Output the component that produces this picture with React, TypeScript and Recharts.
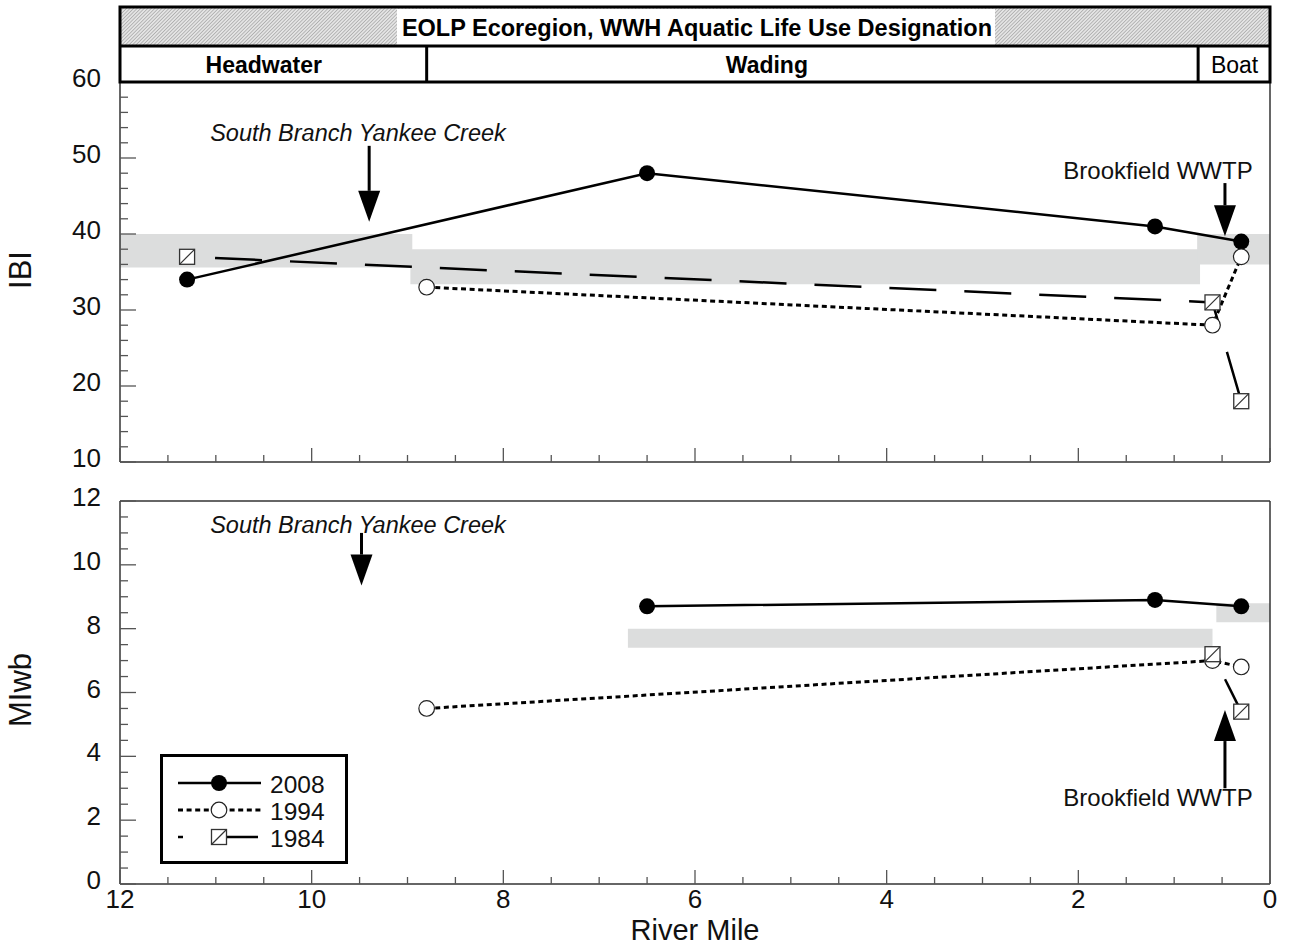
import React from 'react';
import { ComposedChart, Line, XAxis, YAxis, ReferenceArea, ReferenceLine } from 'recharts';

const FONT = '"Liberation Sans", Arial, sans-serif';

// river mile ticks (shared by both panels)
const MILE_TICKS = Array.from({ length: 25 }, (_, i) => i * 0.5);
const IBI_TICKS = Array.from({ length: 26 }, (_, i) => 10 + i * 2);
const MIWB_TICKS = Array.from({ length: 25 }, (_, i) => i * 0.5);

// IBI
const MILES_2008_IBI = [11.3, 6.5, 1.2, 0.3];
const IBI_2008 = [34, 48, 41, 39];
const MILES_1994_IBI = [8.8, 0.6, 0.3];
const IBI_1994 = [33, 28, 37];
const MILES_1984_IBI = [11.3, 0.6, 0.3];
const IBI_1984 = [37, 31, 18];

// MIwb
const MILES_2008_MIWB = [6.5, 1.2, 0.3];
const MIWB_2008 = [8.7, 8.9, 8.7];
const MILES_1994_MIWB = [8.8, 0.6, 0.3];
const MIWB_1994 = [5.5, 7.0, 6.8];
const MILES_1984_MIWB = [0.6, 0.3];
const MIWB_1984 = [7.2, 5.4];

// criteria bands (headwater, wading, boat)
const IBI_BANDS = [
  { x1: 12, x2: 8.95, y1: 35.6, y2: 40 },
  { x1: 8.97, x2: 0.73, y1: 33.4, y2: 38 },
  { x1: 0.76, x2: 0, y1: 36, y2: 40 },
];
const MIWB_BANDS = [
  { x1: 6.7, x2: 0.6, y1: 7.4, y2: 8.0 },
  { x1: 0.56, x2: 0, y1: 8.2, y2: 8.8 },
];

// use designation segments
const DESIGNATIONS = [
  { label: 'Headwater', to: 8.8, bold: true, at: 10.5 },
  { label: 'Wading', to: 0.75, bold: true, at: 5.25 },
  { label: 'Boat', to: 0, bold: false, at: 0.37 },
];

const zip = (miles: number[], vals: number[]) => miles.map((m, i) => ({ mile: m, v: vals[i] }));

// page geometry
const LEFT = 120;
const RIGHT = 1270;
const TOP_Y0 = 82;
const TOP_Y1 = 462;
const BOT_Y0 = 501;
const BOT_Y1 = 884;
const X_AXIS_H = 30;
const px = (mile: number) => LEFT + ((12 - mile) * (RIGHT - LEFT)) / 12;
const pyTop = (v: number) => TOP_Y0 + ((60 - v) * (TOP_Y1 - TOP_Y0)) / 50;
const pyBot = (v: number) => BOT_Y0 + ((12 - v) * (BOT_Y1 - BOT_Y0)) / 12;

const AXIS = { stroke: '#333', strokeWidth: 1.5 };

const makeYTick = (majorEvery: number) => (p: any) => {
  const v = p.payload.value;
  const major = Math.abs(v / majorEvery - Math.round(v / majorEvery)) < 1e-6;
  return (
    <g key={`yt-${v}`}>
      <line x1={p.x} x2={p.x + (major ? 16 : 8)} y1={p.y} y2={p.y} stroke="#555" strokeWidth={1.3} />
      {major && (
        <text x={p.x - 19} y={p.y - 4} textAnchor="end" dominantBaseline="central" fontSize={26} fontFamily={FONT} fill="#111">
          {v}
        </text>
      )}
    </g>
  );
};

const makeXTick = (labels: boolean) => (p: any) => {
  const v = p.payload.value;
  const major = v % 2 === 0;
  return (
    <g key={`xt-${v}`}>
      <line x1={p.x} x2={p.x} y1={p.y} y2={p.y - (major ? 14 : 7)} stroke="#555" strokeWidth={1.3} />
      {labels && major && (
        <text x={p.x} y={p.y + 15} textAnchor="middle" dominantBaseline="central" fontSize={26} fontFamily={FONT} fill="#111">
          {v}
        </text>
      )}
    </g>
  );
};

const dotFilled = (p: any) => <circle key={`f-${p.index}`} cx={p.cx} cy={p.cy} r={8} fill="#000" />;
const dotOpen = (p: any) => (
  <circle key={`o-${p.index}`} cx={p.cx} cy={p.cy} r={7.8} fill="#fff" stroke="#222" strokeWidth={1.2} />
);
const dotSquare = (p: any) => (
  <g key={`s-${p.index}`}>
    <rect x={p.cx - 7.5} y={p.cy - 7.5} width={15} height={15} fill="#fff" stroke="#333" strokeWidth={1.3} />
    <line x1={p.cx - 7.5} y1={p.cy + 7.5} x2={p.cx + 7.5} y2={p.cy - 7.5} stroke="#333" strokeWidth={1.2} />
  </g>
);

const Arrow = ({ x, from, tip }: { x: number; from: number; tip: number }) => {
  const dir = tip > from ? 1 : -1;
  const base = tip - dir * 31;
  return (
    <g>
      <line x1={x} x2={x} y1={from} y2={base} stroke="#000" strokeWidth={3} />
      <polygon points={`${x - 11},${base} ${x + 11},${base} ${x},${tip}`} fill="#000" />
    </g>
  );
};

function Panel({ top, height, margin, yDomain, yTicks, majorEvery, bands, s2008, s1994, s1984, labels, boxTop }: any) {
  return (
    <div style={{ position: 'absolute', left: 0, top }}>
      <ComposedChart width={1292} height={height} margin={margin}>
        <XAxis
          type="number"
          dataKey="mile"
          domain={[0, 12]}
          reversed
          allowDataOverflow
          ticks={MILE_TICKS}
          interval={0}
          height={X_AXIS_H}
          tickSize={0}
          tickMargin={0}
          tickLine={false}
          axisLine={AXIS}
          tick={makeXTick(labels)}
        />
        <YAxis
          type="number"
          domain={yDomain}
          allowDataOverflow
          ticks={yTicks}
          interval={0}
          width={120}
          tickSize={0}
          tickMargin={0}
          tickLine={false}
          axisLine={AXIS}
          tick={makeYTick(majorEvery)}
        />
        {bands.map((b: any, i: number) => (
          <ReferenceArea key={i} x1={b.x1} x2={b.x2} y1={b.y1} y2={b.y2} fill="#dcdddd" fillOpacity={1} stroke="none" />
        ))}
        <ReferenceLine x={0} stroke="#333" strokeWidth={1.5} />
        {boxTop && <ReferenceLine y={yDomain[1]} stroke="#333" strokeWidth={1.5} />}
        <Line data={s2008} dataKey="v" stroke="#000" strokeWidth={2.5} dot={dotFilled} isAnimationActive={false} />
        <Line data={s1994} dataKey="v" stroke="#000" strokeWidth={3} strokeDasharray="5 3.6" dot={dotOpen} isAnimationActive={false} />
        <Line
          data={s1984}
          dataKey="v"
          stroke="#000"
          strokeWidth={2.5}
          strokeDasharray="47 28"
          strokeDashoffset={47}
          dot={dotSquare}
          isAnimationActive={false}
        />
      </ComposedChart>
    </div>
  );
}

function Header() {
  const y0 = 8;
  const yMid = 46;
  const y1 = 82;
  return (
    <g fontFamily={FONT}>
      <defs>
        <pattern id="hatch" width="2.5" height="2.5" patternUnits="userSpaceOnUse" patternTransform="rotate(45)">
          <rect width="2.5" height="2.5" fill="#e4e4e4" />
          <line x1="0" y1="0" x2="0" y2="2.5" stroke="#8a8a8a" strokeWidth="1" />
        </pattern>
      </defs>
      <rect x={LEFT} y={y0} width={RIGHT - LEFT} height={yMid - y0} fill="url(#hatch)" />
      <rect x={397} y={y0 + 1} width={598} height={yMid - y0 - 2} fill="#fff" />
      <text x={697} y={(y0 + yMid) / 2 + 1} textAnchor="middle" dominantBaseline="central" fontSize={23.5} fontWeight="bold">
        EOLP Ecoregion, WWH Aquatic Life Use Designation
      </text>
      <rect x={LEFT} y={yMid} width={RIGHT - LEFT} height={y1 - yMid} fill="#fff" />
      <line x1={LEFT} x2={RIGHT} y1={yMid} y2={yMid} stroke="#000" strokeWidth={3} />
      {DESIGNATIONS.map((d) => (
        <g key={d.label}>
          {d.to > 0 && <line x1={px(d.to)} x2={px(d.to)} y1={yMid} y2={y1} stroke="#000" strokeWidth={3} />}
          <text
            x={px(d.at)}
            y={(yMid + y1) / 2 + 1}
            textAnchor="middle"
            dominantBaseline="central"
            fontSize={23}
            fontWeight={d.bold ? 'bold' : 'normal'}
          >
            {d.label}
          </text>
        </g>
      ))}
      <rect x={LEFT} y={y0 - 1} width={RIGHT - LEFT} height={y1 - y0 + 1} fill="none" stroke="#000" strokeWidth={3} />
    </g>
  );
}

function Legend() {
  const rows = [
    { label: '2008', y: 783 },
    { label: '1994', y: 810 },
    { label: '1984', y: 837 },
  ];
  const cx = 219;
  return (
    <g fontFamily={FONT}>
      <rect x={161.5} y={755.5} width={185} height={107} fill="#fff" stroke="#000" strokeWidth={3} />
      <line x1={178} x2={261} y1={rows[0].y} y2={rows[0].y} stroke="#000" strokeWidth={2.5} />
      {dotFilled({ cx, cy: rows[0].y, index: 'lg' })}
      <line x1={178} x2={261} y1={rows[1].y} y2={rows[1].y} stroke="#000" strokeWidth={3} strokeDasharray="5 3.6" />
      {dotOpen({ cx, cy: rows[1].y, index: 'lg' })}
      <line x1={178} x2={183} y1={rows[2].y} y2={rows[2].y} stroke="#000" strokeWidth={2.5} />
      <line x1={cx} x2={258} y1={rows[2].y} y2={rows[2].y} stroke="#000" strokeWidth={2.5} />
      {dotSquare({ cx, cy: rows[2].y, index: 'lg' })}
      {rows.map((r) => (
        <text key={r.label} x={270} y={r.y + 1} dominantBaseline="central" fontSize={24.5} fill="#111">
          {r.label}
        </text>
      ))}
    </g>
  );
}

export default function App() {
  return (
    <div style={{ position: 'absolute', left: 0, top: 0, width: 1292, height: 949, background: '#fff', fontFamily: FONT }}>
      <Panel
        top={0}
        height={510}
        margin={{ top: TOP_Y0, right: 1292 - RIGHT, bottom: 510 - TOP_Y1 - X_AXIS_H, left: 0 }}
        yDomain={[10, 60]}
        yTicks={IBI_TICKS}
        majorEvery={10}
        bands={IBI_BANDS}
        s2008={zip(MILES_2008_IBI, IBI_2008)}
        s1994={zip(MILES_1994_IBI, IBI_1994)}
        s1984={zip(MILES_1984_IBI, IBI_1984)}
        labels={false}
        boxTop={false}
      />
      <Panel
        top={480}
        height={469}
        margin={{ top: BOT_Y0 - 480, right: 1292 - RIGHT, bottom: 949 - BOT_Y1 - X_AXIS_H, left: 0 }}
        yDomain={[0, 12]}
        yTicks={MIWB_TICKS}
        majorEvery={2}
        bands={MIWB_BANDS}
        s2008={zip(MILES_2008_MIWB, MIWB_2008)}
        s1994={zip(MILES_1994_MIWB, MIWB_1994)}
        s1984={zip(MILES_1984_MIWB, MIWB_1984)}
        labels={true}
        boxTop={true}
      />
      <svg width={1292} height={949} style={{ position: 'absolute', left: 0, top: 0, pointerEvents: 'none' }}>
        <Header />
        <g fontFamily={FONT} fill="#111">
          <text x={358} y={133} textAnchor="middle" dominantBaseline="central" fontSize={23.5} fontStyle="italic">
            South Branch Yankee Creek
          </text>
          <Arrow x={px(9.4)} from={pyTop(51.6)} tip={pyTop(41.6)} />
          <text x={1158} y={170} textAnchor="middle" dominantBaseline="central" fontSize={24}>
            Brookfield WWTP
          </text>
          <Arrow x={px(0.47)} from={pyTop(46.7)} tip={pyTop(39.7)} />

          <text x={358} y={525} textAnchor="middle" dominantBaseline="central" fontSize={23.5} fontStyle="italic">
            South Branch Yankee Creek
          </text>
          <Arrow x={px(9.48)} from={pyBot(11.0)} tip={pyBot(9.35)} />
          <text x={1158} y={797} textAnchor="middle" dominantBaseline="central" fontSize={24}>
            Brookfield WWTP
          </text>
          <Arrow x={px(0.47)} from={pyBot(3.0)} tip={pyBot(5.45)} />

          <text transform="translate(20,270) rotate(-90)" textAnchor="middle" dominantBaseline="central" fontSize={31}>
            IBI
          </text>
          <text transform="translate(20,690) rotate(-90)" textAnchor="middle" dominantBaseline="central" fontSize={31}>
            MIwb
          </text>
          <text x={695} y={930} textAnchor="middle" dominantBaseline="central" fontSize={29}>
            River Mile
          </text>
        </g>
        <Legend />
      </svg>
    </div>
  );
}
